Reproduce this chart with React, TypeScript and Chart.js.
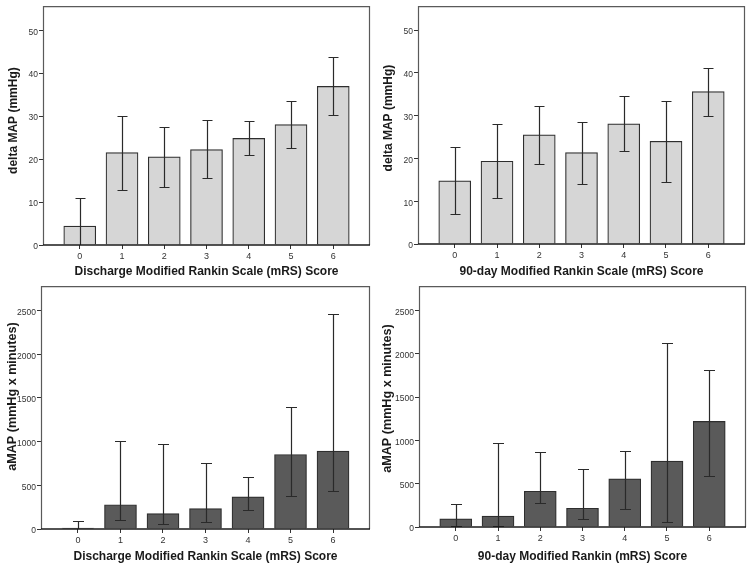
import React, { useEffect, useRef } from "react";
import { Chart, registerables } from "chart.js";

Chart.register(...registerables);

// ---- data ----
const categories = [0, 1, 2, 3, 4, 5, 6];
const xTickLabels = ["0", "1", "2", "3", "4", "5", "6"];
const deltaTicks = [0, 10, 20, 30, 40, 50];
const amapTicks = [0, 500, 1000, 1500, 2000, 2500];

const dischargeDeltaMean = [4.4, 21.5, 20.5, 22.2, 24.8, 28.0, 36.9];
const dischargeDeltaUpper = [11.0, 30.1, 27.5, 29.0, 28.8, 33.6, 43.7];
const dischargeDeltaLower = [-2.2, 12.9, 13.5, 15.6, 20.9, 22.5, 30.3];

const day90DeltaMean = [14.75, 19.35, 25.5, 21.35, 28.1, 24.0, 35.6];
const day90DeltaUpper = [22.6, 28.1, 32.3, 28.6, 34.7, 33.5, 41.1];
const day90DeltaLower = [7.1, 10.7, 18.7, 14.1, 21.7, 14.5, 30.0];

const dischargeAmapMean = [10, 278, 177, 233, 368, 853, 891];
const dischargeAmapUpper = [90, 1011, 970, 759, 598, 1391, 2459];
const dischargeAmapLower = [-70, 98, 53, 83, 222, 376, 440];

const day90AmapMean = [95, 125, 412, 216, 556, 760, 1218];
const day90AmapUpper = [269, 972, 866, 669, 877, 2118, 1812];
const day90AmapLower = [15, 15, 272, 91, 208, 60, 586];

const FONT = "'Liberation Sans', Arial, sans-serif";

type PanelProps = {
  left: number;
  top: number;
  width: number;
  height: number;
  padTop: number;
  padRight: number;
  yAxisWidth: number;
  xAxisHeight: number;
  xTitlePad: number;
  yTitle: string;
  yTitleSize: number;
  yTitleShift: number;
  yTitleX: number;
  xTitle: string;
  mean: number[];
  upper: number[];
  lower: number[];
  yTicks: number[];
  yMax: number;
  fill: string;
  capWidth: number;
};

function Panel(p: PanelProps) {
  const ref = useRef<HTMLCanvasElement | null>(null);
  useEffect(() => {
    if (!ref.current) return;
    const decorations = {
      id: "decorations",
      afterDatasetsDraw(chart: any) {
        const { ctx, chartArea } = chart;
        const xs = chart.scales.x;
        const ys = chart.scales.y;
        // error bars
        ctx.save();
        ctx.beginPath();
        ctx.rect(chartArea.left, chartArea.top, chartArea.right - chartArea.left, chartArea.bottom - chartArea.top);
        ctx.clip();
        ctx.strokeStyle = "#2a2a2a";
        ctx.lineWidth = 1.2;
        categories.forEach((c, i) => {
          const x = Math.round(xs.getPixelForValue(c)) + 0.5;
          const yU = Math.round(ys.getPixelForValue(p.upper[i])) + 0.5;
          const yL = Math.round(ys.getPixelForValue(p.lower[i])) + 0.5;
          const h = p.capWidth / 2;
          ctx.beginPath();
          ctx.moveTo(x, yU);
          ctx.lineTo(x, yL);
          ctx.moveTo(x - h, yU);
          ctx.lineTo(x + h, yU);
          ctx.moveTo(x - h, yL);
          ctx.lineTo(x + h, yL);
          ctx.stroke();
        });
        ctx.restore();
        // frame
        const l = chartArea.left + 0.5;
        const t = chartArea.top + 0.5;
        const r = chartArea.right - 0.5;
        const b = chartArea.bottom;
        ctx.save();
        ctx.strokeStyle = "#5a5a5a";
        ctx.lineWidth = 1.2;
        ctx.beginPath();
        ctx.moveTo(l, b);
        ctx.lineTo(l, t);
        ctx.lineTo(r, t);
        ctx.lineTo(r, b);
        ctx.stroke();
        ctx.strokeStyle = "#1a1a1a";
        ctx.lineWidth = 1.6;
        ctx.beginPath();
        ctx.moveTo(chartArea.left, b);
        ctx.lineTo(chartArea.right, b);
        ctx.stroke();
        ctx.restore();
        // y-axis title
        ctx.save();
        ctx.translate(p.yTitleX, (chartArea.top + chartArea.bottom) / 2 + p.yTitleShift);
        ctx.rotate(-Math.PI / 2);
        ctx.font = `bold ${p.yTitleSize}px ${FONT}`;
        ctx.fillStyle = "#1a1a1a";
        ctx.textAlign = "center";
        ctx.textBaseline = "middle";
        ctx.fillText(p.yTitle, 0, 0);
        ctx.restore();
      },
    };
    const chart = new Chart(ref.current, {
      type: "bar",
      data: {
        datasets: [
          {
            data: categories.map((c, i) => ({ x: c, y: p.mean[i] })),
            backgroundColor: p.fill,
            borderColor: "#2e2e2e",
            borderWidth: 1.2,
            borderSkipped: "bottom",
            barThickness: 32,
          } as any,
        ],
      },
      options: {
        responsive: false,
        devicePixelRatio: 1,
        animation: false,
        layout: { padding: { top: p.padTop, right: p.padRight, left: 0, bottom: 0 } },
        plugins: { legend: { display: false }, tooltip: { enabled: false } },
        scales: {
          x: {
            type: "linear",
            min: -0.87,
            max: 6.87,
            offset: false,
            afterFit: (s: any) => {
              s.height = p.xAxisHeight;
            },
            afterBuildTicks: (s: any) => {
              s.ticks = categories.map((v) => ({ value: v }));
            },
            ticks: {
              callback: (v: any) => xTickLabels[categories.indexOf(Number(v))] ?? "",
              font: { family: FONT, size: 9 },
              color: "#333",
              padding: 2,
              maxRotation: 0,
              autoSkip: false,
            },
            grid: { offset: false, drawOnChartArea: false, drawTicks: true, tickLength: 4, color: "#333", lineWidth: 1 },
            border: { display: false },
            title: {
              display: true,
              text: p.xTitle,
              font: { family: FONT, size: 12, weight: "bold" },
              color: "#1a1a1a",
              padding: { top: 0, bottom: p.xTitlePad },
            },
          },
          y: {
            type: "linear",
            min: 0,
            max: p.yMax,
            afterFit: (s: any) => {
              s.width = p.yAxisWidth;
            },
            afterBuildTicks: (s: any) => {
              s.ticks = p.yTicks.map((v) => ({ value: v }));
            },
            ticks: {
              callback: (v: any) => String(v),
              font: { family: FONT, size: 8.5 },
              color: "#333",
              padding: 1,
              labelOffset: 2,
            },
            grid: { drawOnChartArea: false, drawTicks: true, tickLength: 4, color: "#333", lineWidth: 1 },
            border: { display: false },
            title: { display: false },
          },
        },
      } as any,
      plugins: [decorations],
    });
    return () => chart.destroy();
  }, []);
  return (
    <canvas
      ref={ref}
      width={p.width}
      height={p.height}
      style={{ position: "absolute", left: p.left, top: p.top, width: p.width, height: p.height }}
    />
  );
}

export default function App() {
  return (
    <div style={{ position: "fixed", left: 0, top: 0, width: 750, height: 566, background: "#fff", overflow: "hidden" }}>
      <Panel
        left={0} top={0} width={375} height={283}
        padTop={4} padRight={5} yAxisWidth={43} xAxisHeight={38} xTitlePad={4}
        yTitle="delta MAP (mmHg)" yTitleSize={12} yTitleShift={-5} yTitleX={14}
        xTitle="Discharge Modified Rankin Scale (mRS) Score"
        mean={dischargeDeltaMean} upper={dischargeDeltaUpper} lower={dischargeDeltaLower}
        yTicks={deltaTicks} yMax={55.6} fill="#d6d6d6" capWidth={10}
      />
      <Panel
        left={375} top={0} width={375} height={283}
        padTop={4} padRight={5} yAxisWidth={43} xAxisHeight={39} xTitlePad={4}
        yTitle="delta MAP (mmHg)" yTitleSize={12} yTitleShift={-7} yTitleX={14}
        xTitle="90-day Modified Rankin Scale (mRS) Score"
        mean={day90DeltaMean} upper={day90DeltaUpper} lower={day90DeltaLower}
        yTicks={deltaTicks} yMax={55.6} fill="#d6d6d6" capWidth={10}
      />
      <Panel
        left={0} top={280} width={375} height={286}
        padTop={3} padRight={5} yAxisWidth={41} xAxisHeight={37} xTitlePad={2}
        yTitle="aMAP (mmHg x minutes)" yTitleSize={12.6} yTitleShift={-11} yTitleX={12.5}
        xTitle="Discharge Modified Rankin Scale (mRS) Score"
        mean={dischargeAmapMean} upper={dischargeAmapUpper} lower={dischargeAmapLower}
        yTicks={amapTicks} yMax={2780} fill="#5a5a5a" capWidth={11}
      />
      <Panel
        left={375} top={280} width={375} height={286}
        padTop={2} padRight={4} yAxisWidth={44} xAxisHeight={39} xTitlePad={2}
        yTitle="aMAP (mmHg x minutes)" yTitleSize={12.6} yTitleShift={-8} yTitleX={13}
        xTitle="90-day Modified Rankin (mRS) Score"
        mean={day90AmapMean} upper={day90AmapUpper} lower={day90AmapLower}
        yTicks={amapTicks} yMax={2780} fill="#5a5a5a" capWidth={11}
      />
    </div>
  );
}
